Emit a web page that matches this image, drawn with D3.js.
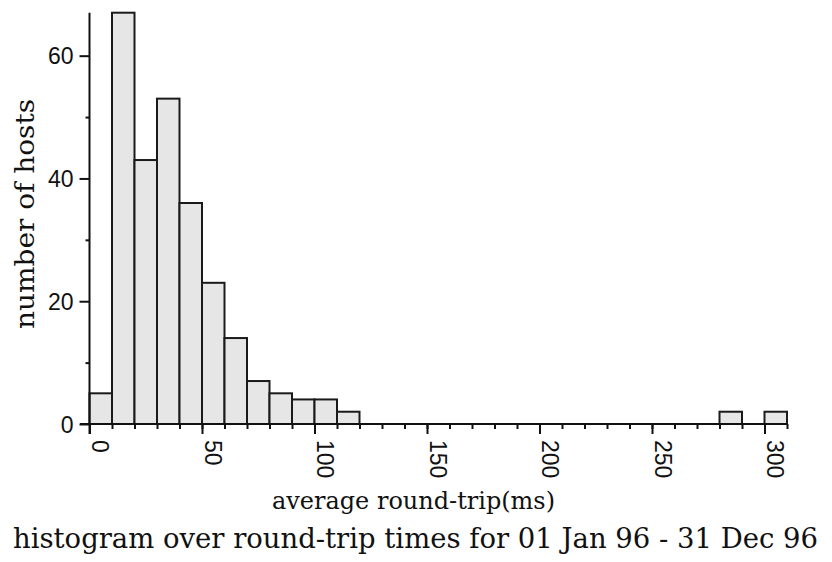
<!DOCTYPE html>
<html>
<head>
<meta charset="utf-8">
<script src="https://cdn.jsdelivr.net/npm/d3@7"></script>
<style>
  body { margin: 0; background: #fff; }
  .axis path, .axis line { stroke: #111; stroke-width: 2px; }
  .axis text { font-family: "Liberation Sans", sans-serif; font-size: 23px; fill: #111; }
  .title { font-family: "DejaVu Serif", serif; fill: #111; }
</style>
</head>
<body>
<svg class="chart-svg"></svg>
<script>
const WIDTH = 832;
const HEIGHT = 562;

// histogram bins of 10 ms, starting at 0
const BIN_WIDTH = 10;
const binStarts = d3.range(0, 310, BIN_WIDTH);
const counts = [5, 67, 43, 53, 36, 23, 14, 7, 5, 4, 4, 2,
  0, 0, 0, 0, 0, 0, 0, 0, 0, 0, 0, 0, 0, 0, 0, 0,
  2, 0, 2];

const xMajorTicks = [0, 50, 100, 150, 200, 250, 300];
const yMajorTicks = [0, 20, 40, 60];

const xLabel = "average round-trip(ms)";
const yLabel = "number of hosts";
const caption = "histogram over round-trip times for 01 Jan 96 - 31 Dec 96";

const bins = binStarts.map((x0, i) => ({ x0, x1: x0 + BIN_WIDTH, count: counts[i] }));

const svg = d3
  .select(".chart-svg")
  .attr("width", WIDTH)
  .attr("height", HEIGHT);

const x = d3.scaleLinear().domain([0, 310]).range([89.5, 787]);
const y = d3.scaleLinear().domain([0, 67]).range([424, 12.7]);

// bars
svg
  .append("g")
  .selectAll("rect")
  .data(bins.filter(d => d.count > 0))
  .join("rect")
  .attr("x", d => x(d.x0))
  .attr("width", d => x(d.x1) - x(d.x0))
  .attr("y", d => y(d.count))
  .attr("height", d => y(0) - y(d.count))
  .attr("fill", "#e6e6e6")
  .attr("stroke", "#1a1a1a")
  .attr("stroke-width", 2);

// minor x ticks
svg
  .append("g")
  .attr("class", "axis")
  .attr("transform", `translate(0, ${y(0)})`)
  .call(d3.axisBottom(x).tickValues(d3.range(0, 311, 10)).tickSize(5).tickSizeOuter(0).tickFormat(""))
  .select(".domain")
  .attr("d", `M80,0H${x(310)}`);

// major x ticks
const xAxisG = svg
  .append("g")
  .attr("class", "axis")
  .attr("transform", `translate(0, ${y(0)})`)
  .call(d3.axisBottom(x).tickValues(xMajorTicks).tickSize(10).tickSizeOuter(0));
xAxisG.select(".domain").remove();
xAxisG
  .selectAll(".tick text")
  .attr("transform", "rotate(90)")
  .attr("x", 16)
  .attr("y", -2)
  .attr("dy", 0)
  .style("text-anchor", "start");

// minor y ticks
svg
  .append("g")
  .attr("class", "axis")
  .attr("transform", `translate(${x(0)}, 0)`)
  .call(d3.axisLeft(y).tickValues([10, 30, 50]).tickSize(4).tickSizeOuter(0).tickFormat(""))
  .select(".domain")
  .attr("d", `M0,${y(67)}V${y(0) + 10}`);

// major y ticks
const yAxisG = svg
  .append("g")
  .attr("class", "axis")
  .attr("transform", `translate(${x(0)}, 0)`)
  .call(d3.axisLeft(y).tickValues(yMajorTicks).tickSize(10).tickSizeOuter(0));
yAxisG.select(".domain").remove();
yAxisG.selectAll(".tick text").attr("x", -16).attr("dy", "0.36em");

// titles
svg
  .append("text")
  .attr("class", "title")
  .attr("x", 272)
  .attr("y", 509)
  .style("font-size", "24px")
  .attr("textLength", 283)
  .attr("lengthAdjust", "spacingAndGlyphs")
  .text(xLabel);

svg
  .append("text")
  .attr("class", "title")
  .attr("x", 13)
  .attr("y", 548)
  .style("font-size", "27px")
  .attr("textLength", 805)
  .attr("lengthAdjust", "spacingAndGlyphs")
  .text(caption);

svg
  .append("text")
  .attr("class", "title")
  .attr("transform", "translate(34, 329) rotate(-90)")
  .style("font-size", "26px")
  .attr("textLength", 230)
  .attr("lengthAdjust", "spacingAndGlyphs")
  .text(yLabel);
</script>
</body>
</html>
